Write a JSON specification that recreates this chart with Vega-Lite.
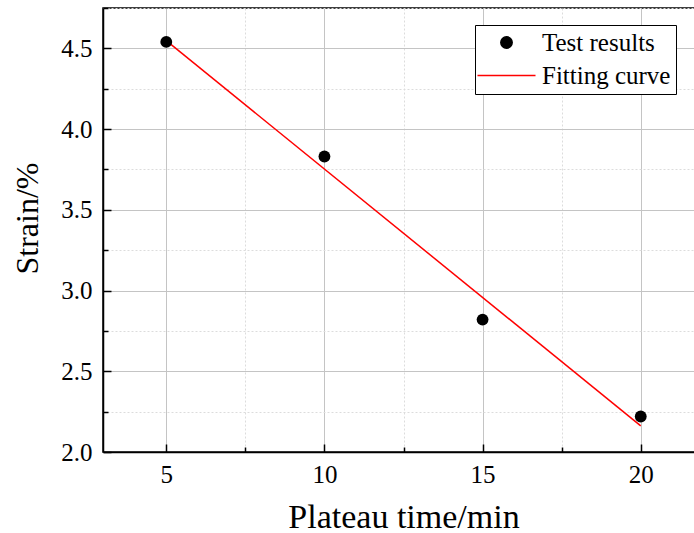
{
  "$schema": "https://vega.github.io/schema/vega-lite/v6.json",
  "width": 601,
  "height": 444,
  "autosize": "none",
  "padding": {"left": 103, "top": 8, "right": 0, "bottom": 81},
  "background": "white",
  "config": {
    "font": "Liberation Serif",
    "view": {"stroke": "black", "strokeWidth": 1.5}
  },
  "datasets": {
    "pts": [
      {"time": 5, "strain": 4.54, "series": "Test results"},
      {"time": 10, "strain": 3.83, "series": "Test results"},
      {"time": 15, "strain": 2.82, "series": "Test results"},
      {"time": 20, "strain": 2.22, "series": "Test results"}
    ],
    "fit": [
      {"time": 5, "strain": 4.548, "series": "Fitting curve"},
      {"time": 20, "strain": 2.162, "series": "Fitting curve"}
    ]
  },
  "resolve": {"axis": {"x": "independent", "y": "independent"}},
  "layer": [
    {
      "data": {"name": "fit"},
      "mark": {"type": "line", "strokeWidth": 1.5},
      "encoding": {
        "x": {"field": "time", "type": "quantitative", "scale": {"domain": [3, 22], "nice": false, "zero": false},
          "axis": {"orient": "bottom", "values": [2.5, 7.5, 12.5, 17.5, 22.5], "labels": false, "title": null, "domain": false,
            "grid": true, "gridColor": "#dcdcdc", "gridDash": [2, 2], "gridWidth": 1,
            "ticks": true, "tickSize": -5, "tickColor": "black", "tickWidth": 1.5}},
        "y": {"field": "strain", "type": "quantitative", "scale": {"domain": [2, 4.75], "nice": false, "zero": false},
          "axis": {"orient": "left", "values": [2.25, 2.75, 3.25, 3.75, 4.25, 4.75], "labels": false, "title": null, "domain": false,
            "grid": true, "gridColor": "#dcdcdc", "gridDash": [2, 2], "gridWidth": 1,
            "ticks": true, "tickSize": -5, "tickColor": "black", "tickWidth": 1.5}},
        "color": {"field": "series", "type": "nominal",
          "scale": {"domain": ["Test results", "Fitting curve"], "range": ["black", "red"]},
          "legend": {
            "title": null, "orient": "none", "legendX": 372, "legendY": 17,
            "direction": "vertical",
            "strokeColor": "black", "fillColor": "white",
            "padding": 5,
            "labelFont": "Liberation Serif", "labelFontSize": 25, "labelColor": "black",
            "symbolSize": 130, "symbolType": "circle", "symbolStrokeWidth": 1.5,
            "symbolOffset": 14,
            "labelOffset": 23,
            "rowPadding": 7,
            "encode": {
              "symbols": {
                "update": {
                  "shape": {"signal": "datum.value === 'Test results' ? 'circle' : 'M-5.09,0H5.09'"},
                  "fill": {"signal": "datum.value === 'Test results' ? 'black' : 'transparent'"},
                  "stroke": {"signal": "datum.value === 'Test results' ? 'black' : 'red'"}
                }
              }
            }
          }}
      }
    },
    {
      "data": {"name": "pts"},
      "mark": {"type": "point", "filled": true, "size": 140, "opacity": 1},
      "encoding": {
        "x": {"field": "time", "type": "quantitative",
          "axis": {"orient": "bottom", "values": [5, 10, 15, 20], "title": "Plateau time/min",
            "titleFont": "Liberation Serif", "titleFontSize": 34, "titleFontWeight": "normal", "titleColor": "black", "titlePadding": 13,
            "labelFont": "Liberation Serif", "labelFontSize": 25, "labelColor": "black", "labelPadding": 18,
            "domain": true, "domainColor": "black", "domainWidth": 1.5,
            "grid": true, "gridColor": "#c4c4c4", "gridWidth": 1,
            "ticks": true, "tickSize": -8, "tickColor": "black", "tickWidth": 1.5}},
        "y": {"field": "strain", "type": "quantitative",
          "axis": {"orient": "left", "values": [2.0, 2.5, 3.0, 3.5, 4.0, 4.5], "format": ".1f", "title": "Strain/%",
            "titleFont": "Liberation Serif", "titleFontSize": 32, "titleFontWeight": "normal", "titleColor": "black", "titlePadding": 16,
            "titleY": 210,
            "labelFont": "Liberation Serif", "labelFontSize": 25, "labelColor": "black", "labelPadding": 19,
            "domain": true, "domainColor": "black", "domainWidth": 1.5,
            "grid": true, "gridColor": "#c4c4c4", "gridWidth": 1,
            "ticks": true, "tickSize": -8, "tickColor": "black", "tickWidth": 1.5}},
        "color": {"field": "series", "type": "nominal"}
      }
    }
  ]
}
